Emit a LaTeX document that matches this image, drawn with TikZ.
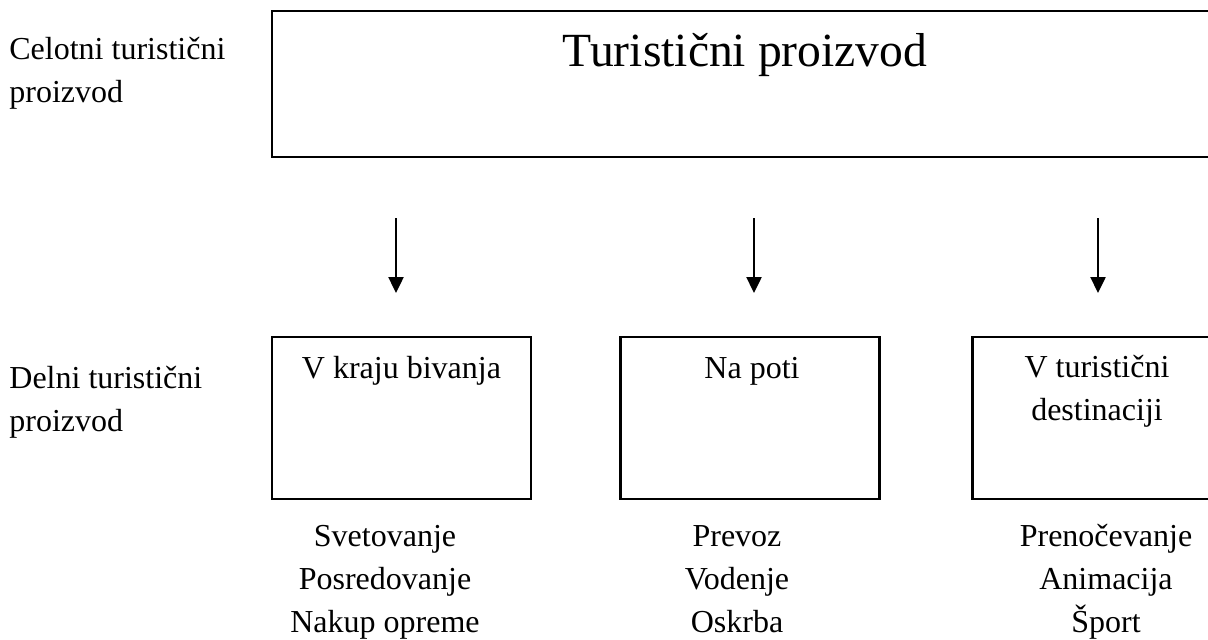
\documentclass[tikz,border=0pt]{standalone}
\usepackage{fontspec}
\setmainfont{Liberation Serif}
\usepackage{tikz}
\usetikzlibrary{calc, arrows.meta}

\begin{document}
\begin{tikzpicture}[x = 0.5pt, y = -0.5pt, font = \fontsize{16}{21.5}\selectfont,
		box/.style = {draw, line width = 1.2pt, minimum width = 129.5pt, minimum height = 81pt, inner sep = 0pt},
		side/.style = {anchor = base west, align = left, inner sep = 0pt},
		label/.style = {anchor = base, align = center, inner sep = 0pt},
		down/.style = {line width = 1.2pt, -{Triangle[length = 8pt, width = 7.5pt]}}]
		\def\wMAX{1208};
		\def\hMAX{639};
		\def\topY{378};
		\def\listY{632};

		\useasboundingbox (0,0) rectangle (\wMAX,\hMAX);
		\clip (0,0) rectangle (\wMAX,\hMAX);

		\node [box, minimum width = 473pt, minimum height = 73pt] (whole) at (745,84) {};
		\node [label, font = \fontsize{23.8}{28}\selectfont] (wholetitle) at (745,66) {Turistični proizvod};

		\node [side] (wholeside) at (9,102) {Celotni turistični\\proizvod};
		\node [side] (partside) at (9,431) {Delni turistični\\proizvod};

		\node [box] (home) at (401.5,418) {};
		\node [box] (road) at (750,418) {};
		\node [box] (dest) at (1102,418) {};

		\node [label] (hometitle) at (401.5,\topY) {V kraju bivanja};
		\node [label] (roadtitle) at (752,\topY) {Na poti};
		\node [label] (desttitle) at (1097,\topY+42) {V turistični\\destinaciji};

		\node [label] (homelist) at (385,\listY) {Svetovanje\\Posredovanje\\Nakup opreme};
		\node [label] (roadlist) at (737,\listY) {Prevoz\\Vodenje\\Oskrba};
		\node [label] (destlist) at (1106,\listY) {Prenočevanje\\Animacija\\Šport};

		\foreach \x/\n in {396/home, 754/road, 1098/dest} {
			\coordinate (\n-from) at (\x,218);
			\coordinate (\n-to) at (\x,293);
			\draw [down] (\n-from) -- (\n-to);
		}
	\end{tikzpicture}
\end{document}
